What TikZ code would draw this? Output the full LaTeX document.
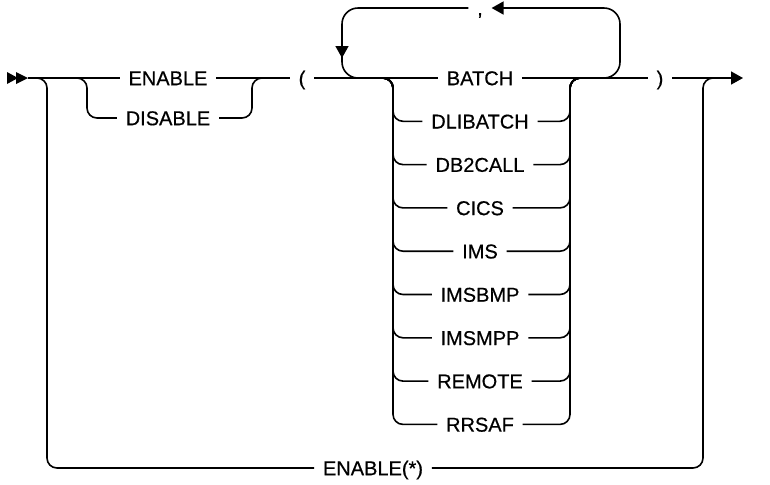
\documentclass[tikz,border=0pt]{standalone}
\usepackage{fontspec}
\setmainfont{Liberation Sans}
\newfontfamily\railfont[FakeBold=0.5]{Liberation Sans}
\usetikzlibrary{arrows.meta}

\begin{document}
\begin{tikzpicture}[x=0.5pt,y=-0.5pt,line width=0.8pt,
    kw/.style={inner xsep=4pt,inner ysep=0pt,text height=7.2pt,text depth=0pt,
               font=\railfont\fontsize{10}{12}\selectfont},
    rail/.style={rounded corners=5pt},
    loop/.style={rounded corners=8pt},
    tip/.style={-{Triangle[length=6pt,width=6.5pt]}}]
    \useasboundingbox (0,0) rectangle (770,484);
    \coordinate (start) at (28,78);
    \coordinate (stop) at (743,78);
    \fill (7,72) -- (18,78) -- (7,84) -- cycle;
    \fill (16,72) -- (28,78) -- (16,84) -- cycle;
    \node[kw] (enable) at (168,78) {ENABLE};
    \node[kw] (disable) at (168,118) {DISABLE};
    \node[kw] (lpar) at (302,78) {(};
    \node[kw] (rpar) at (660,78) {)};
    \node[kw] (comma) at (480,8) {,};
    \node[kw] (star) at (373,468) {ENABLE(*)};
    \foreach \name [count=\i from 0] in {BATCH,DLIBATCH,DB2CALL,CICS,IMS,IMSBMP,IMSMPP,REMOTE,RRSAF}
        \node[kw] (opt\i) at (480,{78+43.3*\i}) {\name};
    \draw (start) -- (enable.west);
    \draw (enable.east) -- (lpar.west);
    \draw (lpar.east) -- (opt0.west);
    \draw (opt0.east) -- (rpar.west);
    \draw[tip] (rpar.east) -- (stop);
    \draw[rail] (77,78) -| (87,118) -- (disable.west);
    \draw[rail] (disable.east) -| (252,78) -- (262,78);
    \draw[rail] (37,78) -| (47,468) -- (star.west);
    \draw[rail] (star.east) -| (703,78) -- (713,78);
    \foreach \i in {1,...,8} {
        \draw[rail] (383,78) -| (393,{78+43.3*\i}) -- (opt\i.west);
        \draw[rail] (opt\i.east) -| (570,78) -- (580,78);
    }
    \draw[loop,tip] (600,78) -| (620,8) -- (comma.east);
    \draw[loop,tip] (comma.west) -| (342,58);
    \draw[loop] (342,56) |- (362,78);
\end{tikzpicture}
\end{document}
